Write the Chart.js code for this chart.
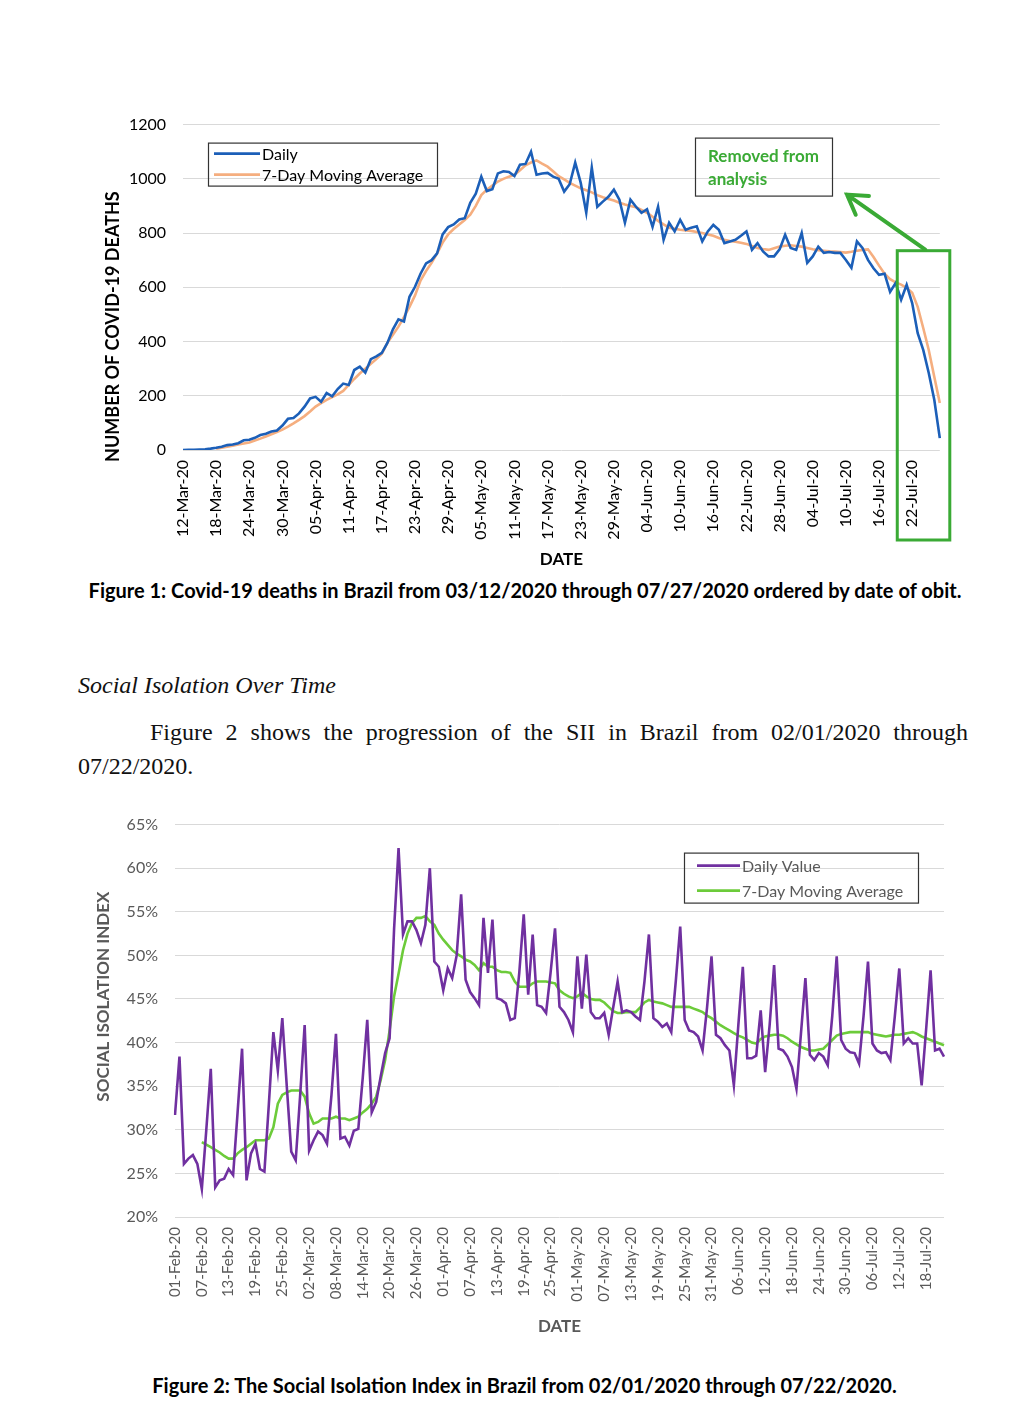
<!DOCTYPE html>
<html>
<head>
<meta charset="utf-8">
<script src="https://cdn.jsdelivr.net/npm/chart.js@4.4.1/dist/chart.umd.min.js"></script>
<style>
  html, body { margin: 0; padding: 0; background: #fff; }
  body { width: 1024px; height: 1418px; position: relative; overflow: hidden; }
  .chart { position: absolute; }
  .caption { position: absolute; white-space: nowrap; text-align: center;
             font: bold 20px Lato, "Open Sans", sans-serif; line-height: 24px; color: #000; }
  .serif { position: absolute; font-family: "Liberation Serif", "DejaVu Serif", serif;
           font-size: 24px; color: #111; white-space: nowrap; }
</style>
</head>
<body>

<div class="chart" style="left:95px; top:98px;"><canvas id="deaths" width="874" height="477"></canvas></div>
<div class="caption" style="left:0; top:578px; width:1050px;">Figure 1: Covid-19 deaths in Brazil from 03/12/2020 through 07/27/2020 ordered by date of obit.</div>

<div class="serif" style="left:78px; top:670px; line-height:30px; font-style:italic;">Social Isolation Over Time</div>
<div class="serif" style="left:150px; top:716px; width:818px; line-height:32px; text-align:justify; text-align-last:justify;">Figure 2 shows the progression of the SII in Brazil from 02/01/2020 through</div>
<div class="serif" style="left:78px; top:750px; line-height:32px;">07/22/2020.</div>

<div class="chart" style="left:85px; top:798px;"><canvas id="sii" width="887" height="542"></canvas></div>
<div class="caption" style="left:0; top:1373px; width:1049px;">Figure 2: The Social Isolation Index in Brazil from 02/01/2020 through 07/22/2020.</div>

<script>
// ---- Figure 1: deaths by date of obit, 12-Mar-20 .. 27-Jul-20 ----
const deathsStart = "2020-03-12";
const deathsDays = 138;
const deathsTicks = ["12-Mar-20","18-Mar-20","24-Mar-20","30-Mar-20","05-Apr-20","11-Apr-20",
  "17-Apr-20","23-Apr-20","29-Apr-20","05-May-20","11-May-20","17-May-20","23-May-20","29-May-20",
  "04-Jun-20","10-Jun-20","16-Jun-20","22-Jun-20","28-Jun-20","04-Jul-20","10-Jul-20","16-Jul-20","22-Jul-20"];
const deathsDaily = [
  0,1,1,2,3,5,8,12,18,20,
  25,36,38,45,55,60,68,72,90,115,
  118,135,160,190,196,178,210,198,225,245,
  240,295,307,285,335,345,358,395,445,482,
  474,565,602,650,688,700,725,795,822,832,
  850,855,912,945,1008,955,962,1020,1028,1025,
  1010,1052,1055,1100,1015,1020,1022,1008,1000,953,
  980,1060,985,875,1041,897,916,934,960,923,
  838,923,897,875,888,823,897,775,838,806,
  849,812,820,825,769,806,830,812,763,769,
  775,790,806,738,763,732,714,714,740,794,
  745,738,800,690,714,750,727,730,727,727,
  701,672,769,745,701,670,646,650,583,616,
  554,609,542,431,369,284,185,44];
const deathsAvg = [
  null,null,null,null,null,null,5,8,12,16,
  20,24,28,35,42,50,58,66,75,86,
  98,111,125,142,160,173,185,195,205,218,
  240,262,282,300,318,335,355,395,425,455,
  490,528,570,625,660,690,725,765,795,815,
  832,848,868,900,940,960,975,990,1000,1008,
  1015,1032,1050,1060,1068,1056,1045,1028,1010,998,
  985,975,965,958,950,940,932,926,920,912,
  905,900,895,885,875,860,845,832,820,816,
  812,810,808,804,800,795,790,782,775,771,
  768,764,760,752,745,741,738,744,750,753,
  755,752,750,745,740,737,735,733,732,730,
  728,731,735,738,740,712,680,650,630,618,
  610,598,580,528,450,369,270,173];

// ---- Figure 2: Social Isolation Index (%), 01-Feb-20 .. 22-Jul-20 ----
const siiStart = "2020-02-01";
const siiDays = 173;
const siiTicks = ["01-Feb-20","07-Feb-20","13-Feb-20","19-Feb-20","25-Feb-20","02-Mar-20","08-Mar-20",
  "14-Mar-20","20-Mar-20","26-Mar-20","01-Apr-20","07-Apr-20","13-Apr-20","19-Apr-20","25-Apr-20",
  "01-May-20","07-May-20","13-May-20","19-May-20","25-May-20","31-May-20","06-Jun-20","12-Jun-20",
  "18-Jun-20","24-Jun-20","30-Jun-20","06-Jul-20","12-Jul-20","18-Jul-20"];
const siiDaily = [
  31.7,38.4,26.1,26.7,27.1,26.1,23.2,30.0,37.0,23.4,
  24.2,24.4,25.5,24.8,32.0,39.3,24.2,27.3,28.4,25.5,
  25.2,33.0,41.2,36.8,42.8,35.0,27.5,26.5,34.0,42.0,
  27.6,28.8,29.8,29.4,28.4,34.0,41.0,29.0,29.2,28.2,
  29.9,30.1,36.0,42.6,32.0,33.2,36.1,38.8,40.5,53.0,
  62.3,52.4,53.9,53.9,52.9,51.4,53.5,60.0,49.3,48.7,
  46.0,48.5,47.4,50.0,57.0,47.2,45.8,45.1,44.3,54.3,
  48.0,54.1,45.1,44.9,44.5,42.6,42.8,48.0,54.7,45.5,
  52.4,44.3,44.1,43.4,48.0,53.1,44.1,43.5,42.6,41.2,
  49.9,43.9,50.1,43.5,42.8,42.8,43.4,40.9,44.0,47.0,
  43.5,43.7,43.5,43.0,42.6,47.0,52.4,42.8,42.4,41.8,
  42.2,41.2,47.0,53.3,42.6,41.4,41.2,40.7,39.1,44.0,
  49.9,40.9,40.5,39.7,39.1,35.1,42.0,48.7,38.2,38.2,
  38.5,43.7,36.6,42.0,48.9,39.3,39.1,38.4,37.2,34.7,
  41.0,47.4,38.6,38.0,38.8,38.4,37.4,43.0,49.9,40.3,
  39.3,38.9,38.8,37.6,43.0,49.3,39.9,39.1,38.8,38.9,
  38.0,43.0,48.5,39.9,40.5,39.9,39.9,35.1,41.5,48.3,
  39.1,39.3,38.4];
const siiAvg = [
  null,null,null,null,null,null,28.6,28.3,28.0,27.7,
  27.4,27.0,26.7,26.7,27.3,27.7,28.0,28.4,28.8,28.8,
  28.8,29.0,30.3,33.0,34.0,34.3,34.5,34.5,34.5,33.8,
  31.9,30.7,30.9,31.3,31.3,31.3,31.5,31.3,31.3,31.1,
  31.3,31.5,32.0,32.4,33.0,33.8,35.7,38.0,41.4,45.3,
  47.9,50.6,52.5,53.7,54.3,54.3,54.5,53.9,53.5,52.5,
  51.8,51.2,50.6,50.2,49.9,49.5,49.3,48.9,48.3,49.1,
  48.7,48.7,48.3,48.1,48.1,48.0,47.0,46.4,46.4,46.4,
  46.8,47.0,47.0,47.0,46.9,46.8,46.0,45.6,45.3,45.1,
  45.3,45.7,45.3,45.0,44.9,44.9,44.6,44.1,43.6,43.4,
  43.4,43.5,43.5,43.5,44.0,44.6,44.9,44.7,44.6,44.5,
  44.3,44.1,44.1,44.1,44.1,44.1,43.9,43.7,43.5,43.1,
  42.8,42.4,42.0,41.7,41.4,41.1,40.8,40.6,40.3,40.0,
  39.9,40.4,40.7,40.8,40.9,40.9,40.8,40.5,40.1,39.8,
  39.5,39.3,39.1,39.1,39.2,39.3,39.8,40.3,40.8,41.0,
  41.1,41.2,41.2,41.2,41.2,41.2,41.0,40.9,40.8,40.7,
  40.8,40.9,40.9,41.0,41.1,41.2,41.0,40.7,40.5,40.3,
  40.1,39.9,39.7];

const MONTHS = ["Jan","Feb","Mar","Apr","May","Jun","Jul","Aug","Sep","Oct","Nov","Dec"];
function dayLabels(start, n) {
  const out = [];
  const d = new Date(start + "T12:00:00Z");
  for (let i = 0; i < n; i++) {
    out.push(String(d.getUTCDate()).padStart(2, "0") + "-" + MONTHS[d.getUTCMonth()] + "-20");
    d.setUTCDate(d.getUTCDate() + 1);
  }
  return out;
}

const UI_FONT = "Lato, 'Open Sans', sans-serif";

// boxed legend inside the plot, like the spreadsheet original
const boxLegend = {
  id: "boxLegend",
  afterDraw(chart, args, o) {
    const { ctx, chartArea } = chart;
    const x = chartArea.left + o.x, y = chartArea.top + o.y;
    ctx.save();
    ctx.strokeStyle = "#333";
    ctx.lineWidth = 1.2;
    ctx.strokeRect(x + 0.5, y + 0.5, o.w, o.h);
    ctx.font = o.font;
    ctx.fillStyle = o.color;
    ctx.textBaseline = "middle";
    chart.data.datasets.forEach((ds, i) => {
      const ly = y + o.rowTop + i * o.rowGap;
      ctx.strokeStyle = ds.borderColor;
      ctx.lineWidth = ds.borderWidth;
      ctx.beginPath();
      ctx.moveTo(x + o.lineX, ly);
      ctx.lineTo(x + o.lineX + o.lineLen, ly);
      ctx.stroke();
      ctx.fillText(ds.label, x + o.lineX + o.lineLen + 2, ly + 1);
    });
    ctx.restore();
  }
};

// vertical axis title placed where the original has it
const sideTitle = {
  id: "sideTitle",
  afterDraw(chart, args, o) {
    const { ctx, chartArea } = chart;
    ctx.save();
    ctx.translate(o.x, chartArea.top + o.y);
    ctx.rotate(-Math.PI / 2);
    ctx.font = o.font;
    ctx.fillStyle = o.color;
    ctx.textAlign = "center";
    ctx.textBaseline = "middle";
    ctx.fillText(o.text, 0, 0);
    ctx.restore();
  }
};

// green box + arrow marking the tail that was dropped
const removedNote = {
  id: "removedNote",
  afterDraw(chart, args, o) {
    const { ctx, chartArea, scales: { x, y } } = chart;
    const green = "#3AAA35";
    ctx.save();
    const left = x.getPixelForValue(o.fromIndex);
    const top = y.getPixelForValue(o.fromValue);
    ctx.strokeStyle = green;
    ctx.lineWidth = 3;
    ctx.strokeRect(left, top, x.right + 10 - left, y.bottom + 90 - top);

    // note box
    const bx = chartArea.left + 512, by = chartArea.top + 13;
    ctx.strokeStyle = "#333";
    ctx.lineWidth = 1.2;
    ctx.strokeRect(bx + 0.5, by + 0.5, 137, 58);
    ctx.fillStyle = green;
    ctx.font = "bold 17px " + UI_FONT;
    ctx.textBaseline = "middle";
    ctx.fillText("Removed from", bx + 13, by + 19);
    ctx.fillText("analysis", bx + 13, by + 42);

    // arrow from the box corner to the note
    const sx = left + 28, sy = top - 1;
    const tx = bx + 152, ty = by + 57;
    ctx.strokeStyle = green;
    ctx.lineWidth = 4;
    ctx.lineCap = "round";
    ctx.beginPath();
    ctx.moveTo(sx, sy);
    ctx.lineTo(tx, ty);
    const ang = Math.atan2(sy - ty, sx - tx);
    ctx.moveTo(tx + 22 * Math.cos(ang - 0.55), ty + 22 * Math.sin(ang - 0.55));
    ctx.lineTo(tx, ty);
    ctx.lineTo(tx + 22 * Math.cos(ang + 0.55), ty + 22 * Math.sin(ang + 0.55));
    ctx.stroke();
    ctx.restore();
  }
};

Chart.defaults.font.family = UI_FONT;
Chart.defaults.animation = false;

new Chart(document.getElementById("deaths"), {
  type: "line",
  data: {
    labels: dayLabels(deathsStart, deathsDays),
    datasets: [
      { label: "Daily", data: deathsDaily, borderColor: "#1C5FB8", borderWidth: 2.6, tension: 0 },
      { label: "7-Day Moving Average", data: deathsAvg, borderColor: "#F5AE7F", borderWidth: 2.6, tension: 0 }
    ]
  },
  plugins: [boxLegend, sideTitle, removedNote],
  options: {
    responsive: false,
    layout: { padding: 0 },
    elements: { point: { radius: 0 } },
    plugins: {
      legend: { display: false },
      tooltip: { enabled: false },
      boxLegend: { x: 25, y: 18, w: 229, h: 43, rowTop: 11, rowGap: 21, lineX: 6, lineLen: 46,
                   font: "16px " + UI_FONT, color: "#000" },
      sideTitle: { x: 18, y: 202, text: "NUMBER OF COVID-19 DEATHS", font: "bold 18px " + UI_FONT, color: "#000" },
      removedNote: { fromIndex: 129.3, fromValue: 735 }
    },
    scales: {
      x: {
        offset: false,
        afterFit(scale) { scale.height = 125; },
        grid: { display: false, drawTicks: false },
        border: { display: false },
        ticks: {
          autoSkip: false, maxRotation: 90, minRotation: 90, padding: 10,
          color: "#000", font: { size: 16 },
          callback: (v, i) => (i % 6 === 0 ? deathsTicks[i / 6] : "")
        },
        title: { display: true, text: "DATE", color: "#000", font: { size: 17, weight: "bold" },
                 padding: { top: 0, bottom: 5 } }
      },
      y: {
        min: 0, max: 1200,
        afterFit(scale) { scale.width = 88; },
        grid: { color: "#D9D9D9", lineWidth: 1, drawTicks: false },
        border: { display: false },
        ticks: { stepSize: 200, padding: 17, color: "#000", font: { size: 16 },
                 callback: v => String(v) }
      }
    }
  }
});

new Chart(document.getElementById("sii"), {
  type: "line",
  data: {
    labels: dayLabels(siiStart, siiDays),
    datasets: [
      { label: "Daily Value", data: siiDaily, borderColor: "#7030A0", borderWidth: 2.6, tension: 0 },
      { label: "7-Day Moving Average", data: siiAvg, borderColor: "#6CCB3A", borderWidth: 2.6, tension: 0 }
    ]
  },
  plugins: [boxLegend, sideTitle],
  options: {
    responsive: false,
    layout: { padding: 0 },
    elements: { point: { radius: 0 } },
    plugins: {
      legend: { display: false },
      tooltip: { enabled: false },
      boxLegend: { x: 509, y: 28, w: 234, h: 50, rowTop: 13, rowGap: 25, lineX: 13, lineLen: 43,
                   font: "16px " + UI_FONT, color: "#595959" },
      sideTitle: { x: 19, y: 172, text: "SOCIAL ISOLATION INDEX", font: "bold 17px " + UI_FONT, color: "#595959" }
    },
    scales: {
      x: {
        offset: false,
        afterFit(scale) { scale.height = 123; },
        grid: { display: false, drawTicks: false },
        border: { display: false },
        ticks: {
          autoSkip: false, maxRotation: 90, minRotation: 90, padding: 10,
          color: "#595959", font: { size: 15 },
          callback: (v, i) => (i % 6 === 0 ? siiTicks[i / 6] : "")
        },
        title: { display: true, text: "DATE", color: "#595959", font: { size: 17, weight: "bold" },
                 padding: { top: 0, bottom: 3 } }
      },
      y: {
        min: 20, max: 65,
        afterFit(scale) { scale.width = 90; },
        grid: { color: "#D9D9D9", lineWidth: 1, drawTicks: false },
        border: { display: false },
        ticks: { stepSize: 5, padding: 17, color: "#595959", font: { size: 16 },
                 callback: v => v + "%" }
      }
    }
  }
});
</script>
</body>
</html>
